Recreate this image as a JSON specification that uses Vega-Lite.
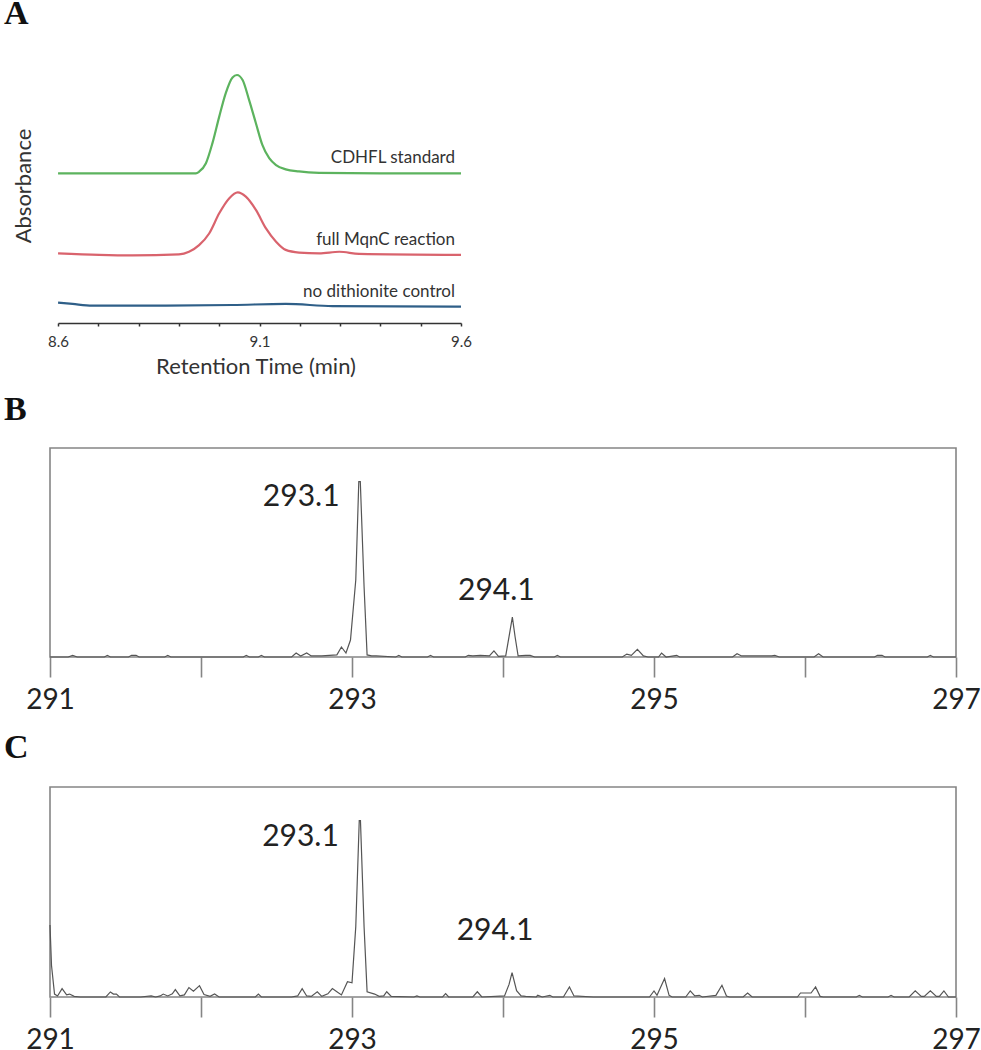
{
  "$schema": "https://vega.github.io/schema/vega-lite/v6.json",
  "padding": {"left": 3, "top": -3, "right": 0, "bottom": 0},
  "bounds": "flush",
  "spacing": 130,
  "config": {
    "font": "Lato",
    "view": {"stroke": "#858585", "strokeWidth": 1.6},
    "title": {"font": "Liberation Serif", "fontWeight": "bold", "fontSize": 34, "anchor": "start", "frame": "group", "baseline": "alphabetic", "dx": -46, "offset": 22, "color": "#111111"},
    "axis": {"grid": false}
  },
  "datasets": {
    "chromatogram": [
      {"trace": "CDHFL standard", "time": 8.6, "absorbance": 54.6},
      {"trace": "CDHFL standard", "time": 8.8, "absorbance": 54.6},
      {"trace": "CDHFL standard", "time": 8.942, "absorbance": 54.6},
      {"trace": "CDHFL standard", "time": 8.95, "absorbance": 55.2},
      {"trace": "CDHFL standard", "time": 8.967, "absorbance": 58.4},
      {"trace": "CDHFL standard", "time": 8.983, "absorbance": 65.9},
      {"trace": "CDHFL standard", "time": 9.0, "absorbance": 76.0},
      {"trace": "CDHFL standard", "time": 9.016, "absorbance": 84.8},
      {"trace": "CDHFL standard", "time": 9.033, "absorbance": 90.8},
      {"trace": "CDHFL standard", "time": 9.044, "absorbance": 91.7},
      {"trace": "CDHFL standard", "time": 9.058, "absorbance": 89.8},
      {"trace": "CDHFL standard", "time": 9.074, "absorbance": 82.3},
      {"trace": "CDHFL standard", "time": 9.091, "absorbance": 73.5},
      {"trace": "CDHFL standard", "time": 9.107, "absorbance": 65.3},
      {"trace": "CDHFL standard", "time": 9.124, "absorbance": 60.3},
      {"trace": "CDHFL standard", "time": 9.141, "absorbance": 57.7},
      {"trace": "CDHFL standard", "time": 9.165, "absorbance": 56.1},
      {"trace": "CDHFL standard", "time": 9.198, "absorbance": 55.3},
      {"trace": "CDHFL standard", "time": 9.248, "absorbance": 54.8},
      {"trace": "CDHFL standard", "time": 9.4, "absorbance": 54.6},
      {"trace": "CDHFL standard", "time": 9.6, "absorbance": 54.6},
      {"trace": "full MqnC reaction", "time": 8.6, "absorbance": 24.4},
      {"trace": "full MqnC reaction", "time": 8.702, "absorbance": 23.8},
      {"trace": "full MqnC reaction", "time": 8.785, "absorbance": 23.6},
      {"trace": "full MqnC reaction", "time": 8.9, "absorbance": 24.0},
      {"trace": "full MqnC reaction", "time": 8.925, "absorbance": 25.0},
      {"trace": "full MqnC reaction", "time": 8.95, "absorbance": 27.5},
      {"trace": "full MqnC reaction", "time": 8.975, "absorbance": 31.9},
      {"trace": "full MqnC reaction", "time": 9.0, "absorbance": 39.5},
      {"trace": "full MqnC reaction", "time": 9.025, "absorbance": 45.2},
      {"trace": "full MqnC reaction", "time": 9.046, "absorbance": 47.4},
      {"trace": "full MqnC reaction", "time": 9.066, "absorbance": 45.8},
      {"trace": "full MqnC reaction", "time": 9.091, "absorbance": 40.8},
      {"trace": "full MqnC reaction", "time": 9.116, "absorbance": 33.8},
      {"trace": "full MqnC reaction", "time": 9.141, "absorbance": 28.8},
      {"trace": "full MqnC reaction", "time": 9.165, "absorbance": 25.7},
      {"trace": "full MqnC reaction", "time": 9.198, "absorbance": 24.7},
      {"trace": "full MqnC reaction", "time": 9.248, "absorbance": 24.4},
      {"trace": "full MqnC reaction", "time": 9.298, "absorbance": 25.0},
      {"trace": "full MqnC reaction", "time": 9.347, "absorbance": 24.2},
      {"trace": "full MqnC reaction", "time": 9.6, "absorbance": 23.8},
      {"trace": "no dithionite control", "time": 8.6, "absorbance": 5.8},
      {"trace": "no dithionite control", "time": 8.636, "absorbance": 5.3},
      {"trace": "no dithionite control", "time": 8.685, "absorbance": 4.7},
      {"trace": "no dithionite control", "time": 8.867, "absorbance": 4.7},
      {"trace": "no dithionite control", "time": 9.033, "absorbance": 4.9},
      {"trace": "no dithionite control", "time": 9.165, "absorbance": 5.3},
      {"trace": "no dithionite control", "time": 9.281, "absorbance": 4.5},
      {"trace": "no dithionite control", "time": 9.6, "absorbance": 4.3}
    ],
    "specB": [
      {"mz": 291.0, "v": 0}, {"mz": 291.12, "v": 0}, {"mz": 291.15, "v": 0.8}, {"mz": 291.18, "v": 0},
      {"mz": 291.36, "v": 0}, {"mz": 291.38, "v": 0.8}, {"mz": 291.4, "v": 0},
      {"mz": 291.52, "v": 0}, {"mz": 291.54, "v": 0.8}, {"mz": 291.57, "v": 0.8}, {"mz": 291.59, "v": 0},
      {"mz": 291.76, "v": 0}, {"mz": 291.78, "v": 0.8}, {"mz": 291.8, "v": 0},
      {"mz": 292.28, "v": 0}, {"mz": 292.3, "v": 0.8}, {"mz": 292.32, "v": 0},
      {"mz": 292.38, "v": 0}, {"mz": 292.4, "v": 0.8}, {"mz": 292.42, "v": 0},
      {"mz": 292.6, "v": 0}, {"mz": 292.63, "v": 1.9}, {"mz": 292.66, "v": 0.5}, {"mz": 292.7, "v": 1.9},
      {"mz": 292.73, "v": 0.5}, {"mz": 292.8, "v": 0.5}, {"mz": 292.85, "v": 0.8}, {"mz": 292.9, "v": 1.0},
      {"mz": 292.93, "v": 4.8}, {"mz": 292.96, "v": 1.9}, {"mz": 292.99, "v": 8.1},
      {"mz": 293.025, "v": 36.8}, {"mz": 293.045, "v": 83.9}, {"mz": 293.055, "v": 83.9},
      {"mz": 293.08, "v": 33.6}, {"mz": 293.1, "v": 1.0}, {"mz": 293.13, "v": 0.5}, {"mz": 293.16, "v": 0.5},
      {"mz": 293.29, "v": 0}, {"mz": 293.31, "v": 0.8}, {"mz": 293.33, "v": 0},
      {"mz": 293.5, "v": 0}, {"mz": 293.52, "v": 0.8}, {"mz": 293.54, "v": 0},
      {"mz": 293.75, "v": 0}, {"mz": 293.77, "v": 0.8}, {"mz": 293.8, "v": 0.5}, {"mz": 293.85, "v": 0.8},
      {"mz": 293.91, "v": 0.5}, {"mz": 293.94, "v": 2.9}, {"mz": 293.97, "v": 0.3}, {"mz": 294.018, "v": 0.5},
      {"mz": 294.04, "v": 9.7}, {"mz": 294.062, "v": 19.1}, {"mz": 294.08, "v": 9.7}, {"mz": 294.1, "v": 0.5},
      {"mz": 294.15, "v": 0.8}, {"mz": 294.18, "v": 0.8}, {"mz": 294.21, "v": 0},
      {"mz": 294.34, "v": 0}, {"mz": 294.36, "v": 0.8}, {"mz": 294.38, "v": 0},
      {"mz": 294.79, "v": 0}, {"mz": 294.82, "v": 1.4}, {"mz": 294.85, "v": 0.8}, {"mz": 294.89, "v": 3.7},
      {"mz": 294.93, "v": 0.5}, {"mz": 294.96, "v": 0},
      {"mz": 295.03, "v": 0}, {"mz": 295.05, "v": 1.9}, {"mz": 295.08, "v": 0},
      {"mz": 295.15, "v": 0.8}, {"mz": 295.17, "v": 0},
      {"mz": 295.52, "v": 0}, {"mz": 295.55, "v": 1.6}, {"mz": 295.58, "v": 0.5},
      {"mz": 295.78, "v": 0.5}, {"mz": 295.8, "v": 0.8}, {"mz": 295.83, "v": 0},
      {"mz": 296.06, "v": 0}, {"mz": 296.09, "v": 1.6}, {"mz": 296.12, "v": 0},
      {"mz": 296.46, "v": 0}, {"mz": 296.48, "v": 0.8}, {"mz": 296.51, "v": 0.8}, {"mz": 296.53, "v": 0},
      {"mz": 296.81, "v": 0}, {"mz": 296.83, "v": 0.8}, {"mz": 296.85, "v": 0}, {"mz": 297.0, "v": 0}
    ],
    "labelsB": [
      {"label": "293.1", "mz": 293.05, "v": 83.9},
      {"label": "294.1", "mz": 294.062, "v": 19.1}
    ],
    "specC": [
      {"mz": 291.0, "v": 34.3}, {"mz": 291.01, "v": 15}, {"mz": 291.03, "v": 1.4}, {"mz": 291.05, "v": 0.5},
      {"mz": 291.08, "v": 4.0}, {"mz": 291.11, "v": 1.0}, {"mz": 291.13, "v": 1.4}, {"mz": 291.16, "v": 0.3},
      {"mz": 291.2, "v": 0}, {"mz": 291.37, "v": 0}, {"mz": 291.4, "v": 2.4}, {"mz": 291.42, "v": 1.4},
      {"mz": 291.44, "v": 1.4}, {"mz": 291.46, "v": 0}, {"mz": 291.6, "v": 0}, {"mz": 291.67, "v": 0.5},
      {"mz": 291.7, "v": 0}, {"mz": 291.73, "v": 0.5}, {"mz": 291.75, "v": 1.4}, {"mz": 291.78, "v": 0.5},
      {"mz": 291.81, "v": 1.5}, {"mz": 291.83, "v": 3.5}, {"mz": 291.86, "v": 0.5}, {"mz": 291.89, "v": 1.0},
      {"mz": 291.92, "v": 4.5}, {"mz": 291.95, "v": 2.8}, {"mz": 291.99, "v": 5.4}, {"mz": 292.02, "v": 1.2},
      {"mz": 292.06, "v": 0.3}, {"mz": 292.09, "v": 1.4}, {"mz": 292.12, "v": 0},
      {"mz": 292.36, "v": 0}, {"mz": 292.38, "v": 1.4}, {"mz": 292.4, "v": 0},
      {"mz": 292.6, "v": 0}, {"mz": 292.64, "v": 0.5}, {"mz": 292.67, "v": 4.0}, {"mz": 292.7, "v": 0.5},
      {"mz": 292.73, "v": 0.3}, {"mz": 292.77, "v": 2.5}, {"mz": 292.8, "v": 0.3}, {"mz": 292.84, "v": 1.5},
      {"mz": 292.87, "v": 4.0}, {"mz": 292.9, "v": 2.5}, {"mz": 292.93, "v": 1.0}, {"mz": 292.97, "v": 7.3},
      {"mz": 293.0, "v": 6.8}, {"mz": 293.025, "v": 33.5}, {"mz": 293.048, "v": 84.0}, {"mz": 293.056, "v": 84.0},
      {"mz": 293.08, "v": 33.5}, {"mz": 293.1, "v": 2.5}, {"mz": 293.15, "v": 1.4}, {"mz": 293.18, "v": 0.3},
      {"mz": 293.21, "v": 0.5}, {"mz": 293.23, "v": 2.5}, {"mz": 293.26, "v": 0.3},
      {"mz": 293.41, "v": 0}, {"mz": 293.43, "v": 0.5}, {"mz": 293.45, "v": 0},
      {"mz": 293.6, "v": 0}, {"mz": 293.62, "v": 1.6}, {"mz": 293.64, "v": 0},
      {"mz": 293.8, "v": 0}, {"mz": 293.83, "v": 2.5}, {"mz": 293.86, "v": 0},
      {"mz": 294.01, "v": 0.5}, {"mz": 294.04, "v": 6}, {"mz": 294.06, "v": 11.6}, {"mz": 294.09, "v": 3},
      {"mz": 294.12, "v": 0.5}, {"mz": 294.15, "v": 0.3}, {"mz": 294.22, "v": 0}, {"mz": 294.23, "v": 0.8},
      {"mz": 294.26, "v": 0}, {"mz": 294.31, "v": 0.8}, {"mz": 294.33, "v": 0},
      {"mz": 294.4, "v": 0}, {"mz": 294.44, "v": 4.8}, {"mz": 294.47, "v": 0.5}, {"mz": 294.6, "v": 0},
      {"mz": 294.97, "v": 0}, {"mz": 295.0, "v": 2.9}, {"mz": 295.02, "v": 0.8}, {"mz": 295.04, "v": 4},
      {"mz": 295.07, "v": 8.8}, {"mz": 295.1, "v": 0.8}, {"mz": 295.12, "v": 0},
      {"mz": 295.21, "v": 0}, {"mz": 295.24, "v": 2.9}, {"mz": 295.27, "v": 0.5}, {"mz": 295.3, "v": 0.8},
      {"mz": 295.32, "v": 0}, {"mz": 295.41, "v": 0.8}, {"mz": 295.45, "v": 5.6}, {"mz": 295.48, "v": 0.5},
      {"mz": 295.5, "v": 0}, {"mz": 295.59, "v": 0}, {"mz": 295.62, "v": 1.9}, {"mz": 295.65, "v": 0},
      {"mz": 295.95, "v": 0}, {"mz": 295.97, "v": 1.9}, {"mz": 296.01, "v": 1.9}, {"mz": 296.04, "v": 1.9},
      {"mz": 296.07, "v": 4.8}, {"mz": 296.1, "v": 0.3}, {"mz": 296.12, "v": 0},
      {"mz": 296.34, "v": 0}, {"mz": 296.36, "v": 0.8}, {"mz": 296.38, "v": 0},
      {"mz": 296.55, "v": 0}, {"mz": 296.57, "v": 0.8}, {"mz": 296.59, "v": 0},
      {"mz": 296.69, "v": 0}, {"mz": 296.73, "v": 2.9}, {"mz": 296.77, "v": 0.3}, {"mz": 296.79, "v": 0.3},
      {"mz": 296.83, "v": 2.9}, {"mz": 296.87, "v": 0.3}, {"mz": 296.89, "v": 0.3}, {"mz": 296.92, "v": 2.9},
      {"mz": 296.95, "v": 0}, {"mz": 297.0, "v": 0}
    ],
    "labelsC": [
      {"label": "293.1", "mz": 293.052, "v": 84.0},
      {"label": "294.1", "mz": 294.06, "v": 11.6}
    ]
  },
  "vconcat": [
    {
      "title": {"text": "A", "offset": 22},
      "width": 411,
      "height": 265,
      "view": {"stroke": null},
      "data": {"name": "chromatogram"},
      "encoding": {
        "x": {
          "field": "time", "type": "quantitative",
          "scale": {"domain": [8.58, 9.6], "nice": false, "zero": false},
          "axis": {
            "title": "Retention Time (min)", "offset": 5,
            "values": [8.6, 8.7, 8.8, 8.9, 9.0, 9.1, 9.2, 9.3, 9.4, 9.5, 9.6],
            "labelExpr": "round(datum.value * 10) % 5 == 1 ? format(datum.value, '.1f') : ''",
            "labelFlush": false, "labelOverlap": false,
            "domainDash": [0, 8, 403, 100], "domainColor": "#333333", "domainWidth": 1.6,
            "tickColor": "#333333", "tickSize": 3, "tickWidth": 1.5,
            "labelFontSize": 15, "labelColor": "#333333", "labelPadding": 8,
            "titleFontSize": 22, "titleFontWeight": "normal", "titleColor": "#333333", "titlePadding": 7
          }
        },
        "y": {
          "field": "absorbance", "type": "quantitative",
          "scale": {"domain": [0, 100]},
          "axis": {"title": "Absorbance", "domain": false, "ticks": false, "labels": false,
                   "titleFontSize": 22, "titleFontWeight": "normal", "titleColor": "#333333", "titlePadding": 15}
        }
      },
      "layer": [
        {
          "mark": {"type": "line", "strokeWidth": 2.2, "interpolate": "monotone"},
          "encoding": {
            "color": {"field": "trace", "type": "nominal",
                      "scale": {"domain": ["CDHFL standard", "full MqnC reaction", "no dithionite control"],
                                "range": ["#5cb35e", "#d9636d", "#2f5f88"]},
                      "legend": null}
          }
        },
        {
          "transform": [{"filter": "datum.time == 9.6"}],
          "mark": {"type": "text", "align": "right", "baseline": "alphabetic", "dx": -6, "dy": -10, "fontSize": 17, "color": "#333333"},
          "encoding": {"text": {"field": "trace"}}
        }
      ]
    },
    {
      "title": {"text": "B", "offset": 21},
      "width": 906,
      "height": 209,
      "encoding": {
        "x": {
          "field": "mz", "type": "quantitative",
          "scale": {"domain": [291, 297], "nice": false, "zero": false},
          "axis": {
            "title": null, "values": [291, 292, 293, 294, 295, 296, 297],
            "labelExpr": "datum.value % 2 == 1 ? datum.label : ''",
            "domain": false, "tickSize": 20, "tickColor": "#858585", "tickWidth": 1.6,
            "labelFontSize": 28, "labelColor": "#222222", "labelPadding": 9,
            "labelFlush": false, "labelOverlap": false
          }
        },
        "y": {"field": "v", "type": "quantitative", "scale": {"domain": [0, 100]}, "axis": null}
      },
      "layer": [
        {"data": {"name": "specB"}, "mark": {"type": "line", "color": "#555555", "strokeWidth": 1.2}},
        {"data": {"name": "labelsB"}, "transform": [{"filter": "datum.label == '293.1'"}],
         "mark": {"type": "text", "align": "right", "baseline": "alphabetic", "dx": -20, "dy": 24, "fontSize": 30, "color": "#222222"},
         "encoding": {"text": {"field": "label"}}},
        {"data": {"name": "labelsB"}, "transform": [{"filter": "datum.label == '294.1'"}],
         "mark": {"type": "text", "align": "center", "baseline": "alphabetic", "dx": -16, "dy": -17, "fontSize": 30, "color": "#222222"},
         "encoding": {"text": {"field": "label"}}}
      ]
    },
    {
      "title": {"text": "C", "offset": 22},
      "width": 906,
      "height": 210,
      "encoding": {
        "x": {
          "field": "mz", "type": "quantitative",
          "scale": {"domain": [291, 297], "nice": false, "zero": false},
          "axis": {
            "title": null, "values": [291, 292, 293, 294, 295, 296, 297],
            "labelExpr": "datum.value % 2 == 1 ? datum.label : ''",
            "domain": false, "tickSize": 20, "tickColor": "#858585", "tickWidth": 1.6,
            "labelFontSize": 28, "labelColor": "#222222", "labelPadding": 9,
            "labelFlush": false, "labelOverlap": false
          }
        },
        "y": {"field": "v", "type": "quantitative", "scale": {"domain": [0, 100]}, "axis": null}
      },
      "layer": [
        {"data": {"name": "specC"}, "mark": {"type": "line", "color": "#555555", "strokeWidth": 1.2}},
        {"data": {"name": "labelsC"}, "transform": [{"filter": "datum.label == '293.1'"}],
         "mark": {"type": "text", "align": "right", "baseline": "alphabetic", "dx": -21, "dy": 25, "fontSize": 30, "color": "#222222"},
         "encoding": {"text": {"field": "label"}}},
        {"data": {"name": "labelsC"}, "transform": [{"filter": "datum.label == '294.1'"}],
         "mark": {"type": "text", "align": "center", "baseline": "alphabetic", "dx": -17, "dy": -33, "fontSize": 30, "color": "#222222"},
         "encoding": {"text": {"field": "label"}}}
      ]
    }
  ]
}
